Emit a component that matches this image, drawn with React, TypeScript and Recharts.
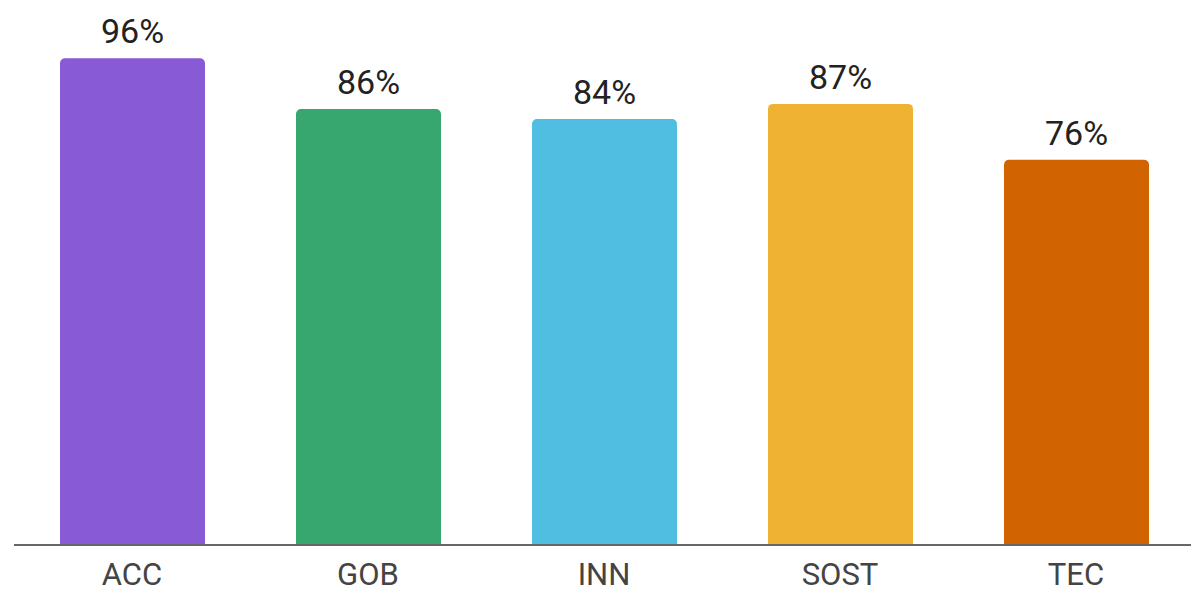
import React from 'react';
import { BarChart, Bar, XAxis, YAxis, Cell, LabelList } from 'recharts';

const categories = ['ACC', 'GOB', 'INN', 'SOST', 'TEC'];
const scores = [96, 86, 84, 87, 76];
const colors = ['#885AD6', '#38A76F', '#50BEE1', '#EFB233', '#D16400'];

const data = categories.map((name, i) => ({ name, value: scores[i] }));

const font = 'Roboto, "Noto Sans", sans-serif';

export default function App() {
  return (
    <div style={{ position: 'absolute', left: 0, top: 0, background: '#fff' }}>
      <BarChart
        width={1200}
        height={596}
        data={data}
        margin={{ top: 38, right: 6, bottom: 0, left: 14 }}
        barCategoryGap={91}
      >
        <XAxis
          dataKey="name"
          height={51}
          axisLine={{ stroke: '#666', strokeWidth: 2 }}
          tickLine={false}
          tickMargin={12}
          tick={{ fill: '#444', fontSize: 31, fontFamily: font }}
          interval={0}
        />
        <YAxis hide domain={[0, 100]} />
        <Bar dataKey="value" barSize={145} radius={[5, 5, 0, 0]} isAnimationActive={false}>
          {data.map((d, i) => (
            <Cell key={d.name} fill={colors[i]} />
          ))}
          <LabelList
            dataKey="value"
            position="top"
            offset={15}
            formatter={(v: number) => `${v}%`}
            style={{ fill: '#222', fontSize: 34, fontFamily: font }}
          />
        </Bar>
      </BarChart>
    </div>
  );
}
